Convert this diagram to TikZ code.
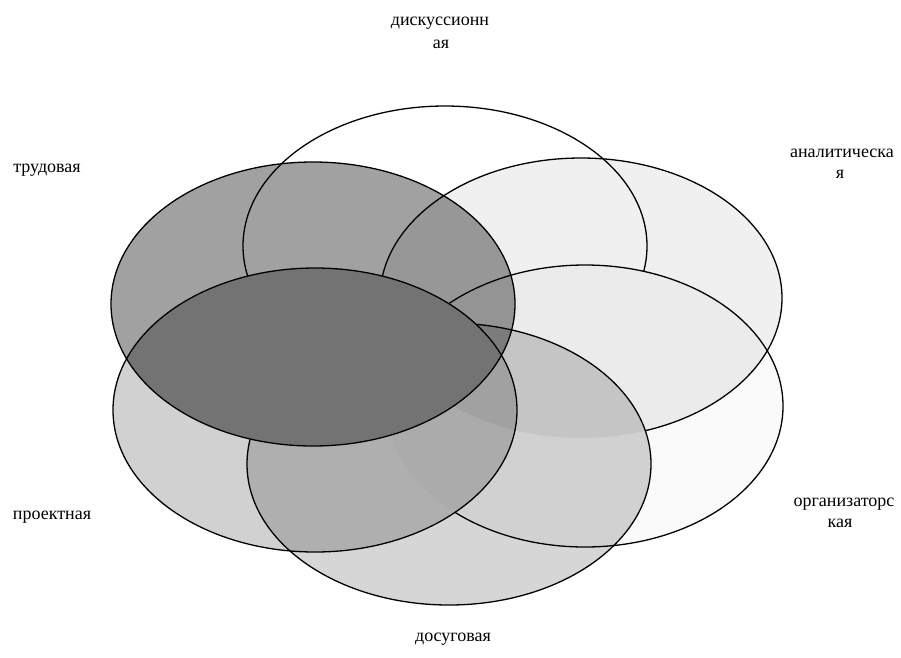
\documentclass[tikz,border=0pt]{standalone}
\usepackage{fontspec}
\setmainfont{Liberation Serif}
\begin{document}
\begin{tikzpicture}[x=1pt,y=-1pt,
  outl/.style={draw=black, line width=1.3pt},
  lbl/.style={font=\fontsize{18}{21}\selectfont, anchor=base, inner sep=0pt}]
\useasboundingbox (0,0) rectangle (901,657);
\fill[white] (0,0) rectangle (901,657);
% centres
\coordinate (cD) at (445,246);   % дискуссионная
\coordinate (cA) at (581,298);   % аналитическая
\coordinate (cO) at (585,406);   % организаторская
\coordinate (cS) at (449,464);   % досуговая
\coordinate (cP) at (315,410);   % проектная
\coordinate (cT) at (313,304);   % трудовая
% fills
\fill[black, fill opacity=0.06] (cA) ellipse [x radius=201pt, y radius=140pt];
\fill[black, fill opacity=0.02] (cO) ellipse [x radius=198pt, y radius=141pt];
\fill[black, fill opacity=0.16] (cS) ellipse [x radius=202pt, y radius=141pt];
\fill[black, fill opacity=0.18] (cP) ellipse [x radius=202pt, y radius=142pt];
\fill[black, fill opacity=0.37] (cT) ellipse [x radius=202pt, y radius=142pt];
% outline of D, hidden under O, досуговая and P
\begin{scope}[even odd rule]
  \clip (-20,-20) rectangle (921,677) (cO) ellipse [x radius=198pt, y radius=141pt];
  \begin{scope}[even odd rule]
    \clip (-20,-20) rectangle (921,677) (cS) ellipse [x radius=202pt, y radius=141pt];
    \begin{scope}[even odd rule]
      \clip (-20,-20) rectangle (921,677) (cP) ellipse [x radius=202pt, y radius=142pt];
      \draw[outl] (cD) ellipse [x radius=202pt, y radius=140pt];
    \end{scope}
  \end{scope}
\end{scope}
% outline of A, hidden under досуговая and P
\begin{scope}[even odd rule]
  \clip (-20,-20) rectangle (921,677) (cS) ellipse [x radius=202pt, y radius=141pt];
  \begin{scope}[even odd rule]
    \clip (-20,-20) rectangle (921,677) (cP) ellipse [x radius=202pt, y radius=142pt];
    \draw[outl] (cA) ellipse [x radius=201pt, y radius=140pt];
  \end{scope}
\end{scope}
% outline of O, hidden under P
\begin{scope}[even odd rule]
  \clip (-20,-20) rectangle (921,677) (cP) ellipse [x radius=202pt, y radius=142pt];
  \draw[outl] (cO) ellipse [x radius=198pt, y radius=141pt];
\end{scope}
\draw[outl] (cS) ellipse [x radius=202pt, y radius=141pt];
% lens T ∩ P, opaque
\begin{scope}
  \clip (cT) ellipse [x radius=202pt, y radius=142pt];
  \fill[black!55] (cP) ellipse [x radius=202pt, y radius=142pt];
\end{scope}
\draw[outl] (cP) ellipse [x radius=202pt, y radius=142pt];
\draw[outl] (cT) ellipse [x radius=202pt, y radius=142pt];
% labels
\node[lbl] (l1a) at (440,25) {дискуссионн};
\node[lbl] (l1b) at (441,48) {ая};
\node[lbl] (l2a) at (842,157) {аналитическа};
\node[lbl] (l2b) at (840,178) {я};
\node[lbl] (l3a) at (844,506) {организаторс};
\node[lbl] (l3b) at (840,527) {кая};
\node[lbl] (l4) at (47,172) {трудовая};
\node[lbl] (l5) at (52,519) {проектная};
\node[lbl] (l6) at (453,641) {досуговая};
\end{tikzpicture}
\end{document}
